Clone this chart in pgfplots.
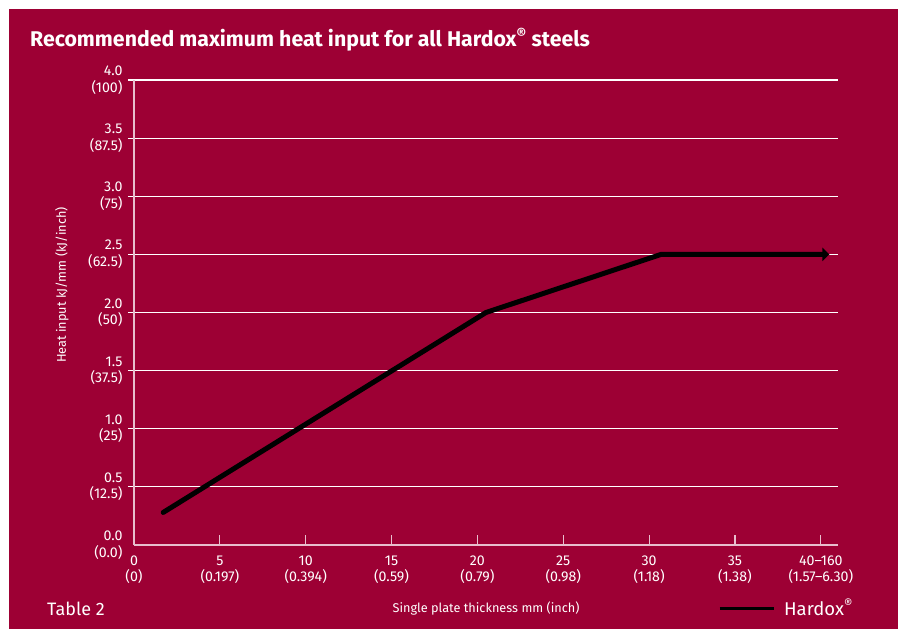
\documentclass[border=0pt]{standalone}
\usepackage{fontspec}
\setmainfont{Fira Sans}
\usepackage{pgfplots}
\pgfplotsset{compat=1.18}
\usetikzlibrary{arrows.meta}
\definecolor{crim}{RGB}{157,0,52}
\definecolor{axl}{RGB}{232,190,205}
\begin{document}
\begin{tikzpicture}[x=1pt,y=1pt]
\path[use as bounding box] (0,0) rectangle (898,629);
\fill[white] (0,0) rectangle (898,629);
\fill[crim] (9,0) rectangle (898,620);
\node[anchor=base west, text=white, font=\bfseries\fontsize{21.3}{25}\selectfont, inner sep=0pt] at (30,582) {Recommended maximum heat input for all Hardox\textsuperscript{\textregistered} steels};
\node[anchor=base west, text=white, font=\fontsize{18}{20}\selectfont, inner sep=0pt] at (47,13) {Table 2};
\begin{axis}[
  at={(134pt,84pt)}, anchor=south west,
  scale only axis, width=704pt, height=465pt,
  xmin=0, xmax=41, ymin=0, ymax=4,
  clip=false,
  axis lines*=left,
  axis line style={-, draw=axl, line width=1.3pt},
  tick align=inside,
  major tick length=10pt,
  xtick={0,5,10,15,20,25,30,35,40},
  xticklabels={{0\\(0)},{5\\(0.197)},{10\\(0.394)},{15\\(0.59)},{20\\(0.79)},{25\\(0.98)},{30\\(1.18)},{35\\(1.38)},{40--160\\(1.57--6.30)}},
  ytick={0.5,1,1.5,2,2.5,3,3.5,4},
  yticklabels={{0.5\\(12.5)},{1.0\\(25)},{1.5\\(37.5)},{2.0\\(50)},{2.5\\(62.5)},{3.0\\(75)},{3.5\\(87.5)},{4.0\\(100)}},
  extra y ticks={0},
  extra y tick labels={{0.0\\(0.0)}},
  extra y tick style={major tick length=0pt, grid=none},
  xtick style={draw=axl, line width=1.2pt},
  ytick style={draw=white, line width=1.1pt, xshift=-6pt},
  ymajorgrids,
  major grid style={draw=white, line width=1.1pt},
  /pgf/number format/assume math mode=true,
  xticklabel style={align=center, font=\fontsize{14.2}{16.5}\selectfont, text=white, yshift=-7pt},
  yticklabel style={align=right, font=\fontsize{14.2}{16.5}\selectfont, text=white, xshift=-8pt},
  xlabel={Single plate thickness mm (inch)},
  ylabel={Heat input kJ/mm (kJ/inch)},
  xlabel style={at={(axis description cs:0.5,-0.1355)}, anchor=center, font=\fontsize{12.7}{15}\selectfont, text=white},
  ylabel style={at={(axis description cs:-0.1023,0.559)}, anchor=center, font=\fontsize{12.7}{15}\selectfont, text=white},
  legend style={at={(axis description cs:0.8295,-0.1355)}, anchor=west, draw=none, fill=none, inner sep=0pt, text=white, font=\fontsize{18.5}{21}\selectfont, /tikz/every odd column/.append style={column sep=7pt}},
  legend image code/.code={\draw[-, black, line width=3pt] (0pt,0pt) -- (54pt,0pt);},
]
\addplot[black, line width=5pt, line cap=round, line join=round, -{Triangle[length=7pt,width=13pt]}, forget plot]
  coordinates {(1.7,0.28) (20.5,2.0) (30.7,2.5) (40.5,2.5)};
\addlegendimage{black, line width=3pt}
\addlegendentry{Hardox\textsuperscript{\textregistered}}
\end{axis}
\end{tikzpicture}
\end{document}
